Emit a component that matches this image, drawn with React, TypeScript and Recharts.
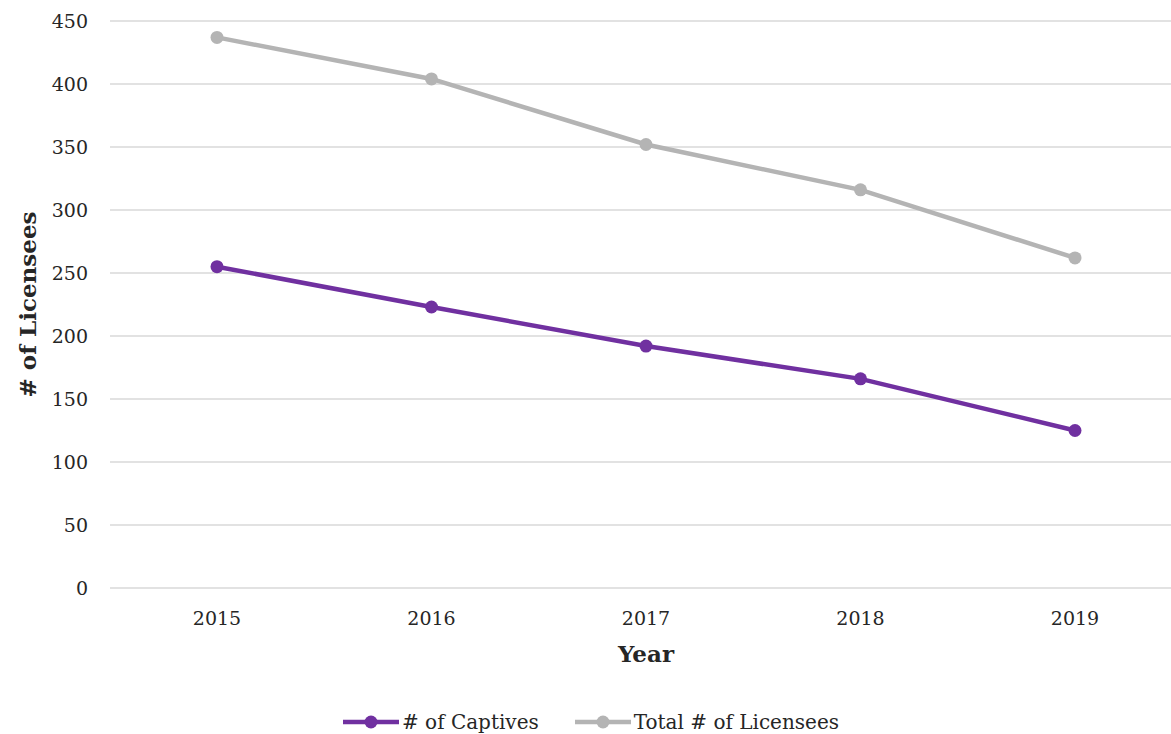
import React from 'react';
import { LineChart, Line, XAxis, YAxis, CartesianGrid, Legend, Label } from 'recharts';

const years = ['2015', '2016', '2017', '2018', '2019'];
const captives = [255, 223, 192, 166, 125];
const totalLicensees = [437, 404, 352, 316, 262];
const yTicks = [0, 50, 100, 150, 200, 250, 300, 350, 400, 450];

const PURPLE = '#7030A0';
const GREY = '#B4B4B4';
const TEXT = '#262626';
const FONT = '"DejaVu Serif", Georgia, serif';

const data = years.map((year, i) => ({
  year,
  captives: captives[i],
  total: totalLicensees[i],
}));

const legendItems = [
  { name: '# of Captives', color: PURPLE },
  { name: 'Total # of Licensees', color: GREY },
];

const LegendContent = () => (
  <div style={{ display: 'flex', justifyContent: 'center', alignItems: 'center', gap: 36, marginTop: 6, fontFamily: FONT, fontSize: 20, lineHeight: '24px', color: TEXT }}>
    {legendItems.map((item) => (
      <div key={item.name} style={{ display: 'flex', alignItems: 'center' }}>
        <svg width={56} height={16} style={{ marginRight: 3 }}>
          <line x1={0} y1={8} x2={56} y2={8} stroke={item.color} strokeWidth={4.5} />
          <circle cx={28} cy={8} r={6.5} fill={item.color} />
        </svg>
        <span>{item.name}</span>
      </div>
    ))}
  </div>
);

const YTitle = ({ viewBox }: any) => {
  const x = viewBox.x + 27;
  const y = viewBox.y + viewBox.height / 2;
  return (
    <text x={x} y={y} transform={`rotate(-90 ${x} ${y})`} textAnchor="middle" dominantBaseline="central"
      fontFamily={FONT} fontWeight="bold" fontSize={23} fill={TEXT}>
      # of Licensees
    </text>
  );
};

const XTitle = ({ viewBox }: any) => (
  <text x={viewBox.x + viewBox.width / 2} y={viewBox.y + 65} textAnchor="middle" dominantBaseline="central"
    fontFamily={FONT} fontWeight="bold" fontSize={23} fill={TEXT}>
    Year
  </text>
);

export default function App() {
  return (
    <div style={{ position: 'absolute', left: 0, top: 0, width: 1171, height: 734, overflow: 'hidden', background: '#fff' }}>
      <LineChart width={1190} height={734} data={data} margin={{ top: 21, right: 8, bottom: 0, left: 0 }}>
        <CartesianGrid horizontal vertical={false} stroke="#D9D9D9" strokeWidth={1.5} />
        <XAxis dataKey="year" axisLine={false} tickLine={false} tickSize={0} tickMargin={24} height={116}
          padding={{ left: 107, right: 107 }}
          tick={{ fill: TEXT, fontSize: 19, fontFamily: FONT }}>
          <Label content={<XTitle />} />
        </XAxis>
        <YAxis domain={[0, 450]} ticks={yTicks} axisLine={false} tickLine={false} tickSize={0} tickMargin={22} width={110}
          tick={{ fill: TEXT, fontSize: 19, fontFamily: FONT }}>
          <Label content={<YTitle />} />
        </YAxis>
        <Legend verticalAlign="bottom" height={30} content={<LegendContent />} />
        <Line type="linear" dataKey="captives" name="# of Captives" stroke={PURPLE} strokeWidth={4.5}
          dot={{ r: 6.5, fill: PURPLE, stroke: PURPLE, strokeWidth: 0 }} activeDot={false} isAnimationActive={false} />
        <Line type="linear" dataKey="total" name="Total # of Licensees" stroke={GREY} strokeWidth={4.5}
          dot={{ r: 6.5, fill: GREY, stroke: GREY, strokeWidth: 0 }} activeDot={false} isAnimationActive={false} />
      </LineChart>
    </div>
  );
}
